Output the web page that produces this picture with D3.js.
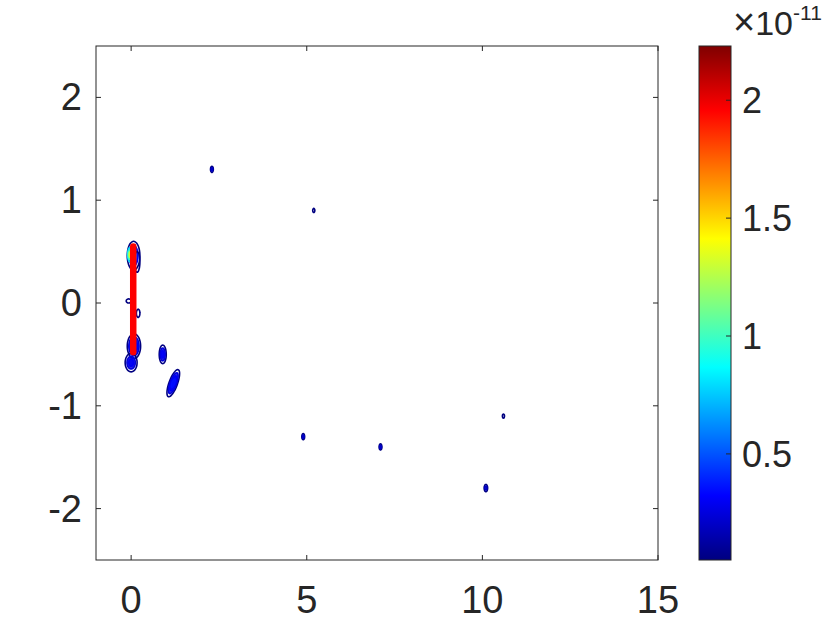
<!DOCTYPE html>
<html><head><meta charset="utf-8">
<script src="https://cdn.jsdelivr.net/npm/d3@7"></script>
<style>body{margin:0;background:#fff}svg{display:block}text{font-family:"Liberation Sans",Arial,sans-serif;fill:#262626}</style>
</head><body><svg id="c" width="840" height="630"></svg>
<script>
// ---- data ----
const xTicks = [0, 5, 10, 15];
const yTicks = [-2, -1, 0, 1, 2];
const cbTicks = [0.5, 1, 1.5, 2];
const cbRange = [0.05, 2.23];
const cbExponent = "-11";
// contour features (data units)
const blobX = [0.07, 0.17, -0.07, 0.20, 0.08, 0.00, 0.90, 1.20, -0.03, 2.30, 5.20, 4.90, 7.10, 10.60, 10.10];
const blobY = [0.46, 0.40, 0.02, -0.10, -0.42, -0.58, -0.50, -0.78, 0.47, 1.30, 0.90, -1.30, -1.40, -1.10, -1.80];
const blobRx = [0.18, 0.08, 0.07, 0.05, 0.19, 0.17, 0.10, 0.12, 0.07, 0.04, 0.03, 0.04, 0.04, 0.03, 0.05];
const blobRy = [0.14, 0.10, 0.02, 0.04, 0.12, 0.09, 0.09, 0.14, 0.07, 0.03, 0.02, 0.03, 0.03, 0.02, 0.035];
const blobTilt = [0, 0, 0, 0, 0, 0, 0, -20, 0, 0, 0, 0, 0, 0, 0];
const blobLevels = [
  [0.05, 0.3, 0.55], [0.05], [0.05], [0.05],
  [0.05, 0.25, 0.3, 0.35], [0.05, 0.25, 0.3], [0.05, 0.25, 0.3], [0.05, 0.25, 0.3, 0.35],
  [0.8, 1.0, 1.3],
  [0.05, 0.2], [0.05], [0.05, 0.2], [0.05, 0.2], [0.05], [0.05, 0.2]
];
// high-level ridge contour
const ridgeX = [0.06];
const ridgeYTop = [0.55];
const ridgeYBot = [-0.48];
const ridgeLevel = [1.96];

// ---- drawing ----
const svg = d3.select("#c");
const L = 96, R = 658, T = 46, B = 560;
const x = d3.scaleLinear().domain([-1, 15]).range([L, R]);
const y = d3.scaleLinear().domain([-2.5, 2.5]).range([B, T]);
const clamp = v => Math.max(0, Math.min(1, v));
const jet = t => {
  const r = clamp(1.5 - Math.abs(4 * t - 3)), g = clamp(1.5 - Math.abs(4 * t - 2)), b = clamp(1.5 - Math.abs(4 * t - 1));
  return d3.rgb(r * 255, g * 255, b * 255).toString();
};
const cnorm = d3.scaleLinear().domain(cbRange).range([0, 1]).clamp(true);
const col = v => jet(cnorm(v));

svg.append("rect").attr("x", L).attr("y", T).attr("width", R - L).attr("height", B - T).attr("fill", "#fff");
svg.append("clipPath").attr("id", "pc").append("rect").attr("x", L).attr("y", T).attr("width", R - L).attr("height", B - T);
const g = svg.append("g").attr("clip-path", "url(#pc)");
const line = d3.line().x(d => x(d[0])).y(d => y(d[1])).curve(d3.curveCardinalClosed);

blobX.forEach((cx, i) => {
  const lv = blobLevels[i], n = lv.length;
  lv.forEach((v, k) => {
    const s = 1 - k / (n + 0.3);
    const a = blobTilt[i] * Math.PI / 180;
    const pts = d3.range(0, 24).map(j => {
      const th = j / 24 * 2 * Math.PI;
      const px = blobRx[i] * s * Math.cos(th), py = blobRy[i] * s * Math.sin(th);
      const sx = x(cx) - x(0), sy = y(0) - y(blobY[i]);
      const dx = (x(px) - x(0)), dy = (y(0) - y(py));
      const rx = dx * Math.cos(a) - dy * Math.sin(a), ry = dx * Math.sin(a) + dy * Math.cos(a);
      return [x.invert(x(0) + sx + rx), y.invert(y(0) - sy - ry)];
    });
    g.append("path").attr("d", line(pts))
      .attr("fill", (k > 0 && n > 1) ? col(v) : "none")
      .attr("fill-opacity", 0.85)
      .attr("stroke", col(v)).attr("stroke-width", 1.6);
  });
});

ridgeX.forEach((rx, i) => {
  g.append("line").attr("x1", x(rx)).attr("x2", x(rx))
    .attr("y1", y(ridgeYTop[i])).attr("y2", y(ridgeYBot[i]))
    .attr("stroke", col(ridgeLevel[i])).attr("stroke-width", 6.5).attr("stroke-linecap", "round");
});

// axes box
const axc = "#262626";
svg.append("rect").attr("x", L).attr("y", T).attr("width", R - L).attr("height", B - T)
  .attr("fill", "none").attr("stroke", axc).attr("stroke-width", 1);
const tl = 5;
xTicks.forEach(t => {
  svg.append("line").attr("x1", x(t)).attr("x2", x(t)).attr("y1", B).attr("y2", B - tl).attr("stroke", axc);
  svg.append("line").attr("x1", x(t)).attr("x2", x(t)).attr("y1", T).attr("y2", T + tl).attr("stroke", axc);
  svg.append("text").attr("x", x(t)).attr("y", 613).attr("text-anchor", "middle").attr("font-size", 38).text(t);
});
yTicks.forEach(t => {
  svg.append("line").attr("x1", L).attr("x2", L + tl).attr("y1", y(t)).attr("y2", y(t)).attr("stroke", axc);
  svg.append("line").attr("x1", R).attr("x2", R - tl).attr("y1", y(t)).attr("y2", y(t)).attr("stroke", axc);
  svg.append("text").attr("x", 82).attr("y", y(t) + 13).attr("text-anchor", "end").attr("font-size", 38).text(t);
});

// colorbar
const CL = 699, CR = 731;
const cy = d3.scaleLinear().domain(cbRange).range([B, T]);
const grad = svg.append("defs").append("linearGradient").attr("id", "jg")
  .attr("x1", 0).attr("y1", 1).attr("x2", 0).attr("y2", 0);
d3.range(0, 65).forEach(j => {
  grad.append("stop").attr("offset", j / 64).attr("stop-color", jet(j / 64));
});
svg.append("rect").attr("x", CL).attr("y", T).attr("width", CR - CL).attr("height", B - T)
  .attr("fill", "url(#jg)").attr("stroke", axc).attr("stroke-width", 1);
cbTicks.forEach(t => {
  svg.append("line").attr("x1", CR).attr("x2", CR - tl).attr("y1", cy(t)).attr("y2", cy(t)).attr("stroke", axc);
  svg.append("text").attr("x", 742).attr("y", cy(t) + 13).attr("text-anchor", "start").attr("font-size", 36).text(t);
});
const ex = svg.append("text").attr("x", 733).attr("y", 35).attr("font-size", 34);
ex.append("tspan").attr("font-size", 38).text("×");
ex.append("tspan").text("10");
ex.append("tspan").attr("dy", -15).attr("font-size", 21).text(cbExponent);
</script></body></html>
